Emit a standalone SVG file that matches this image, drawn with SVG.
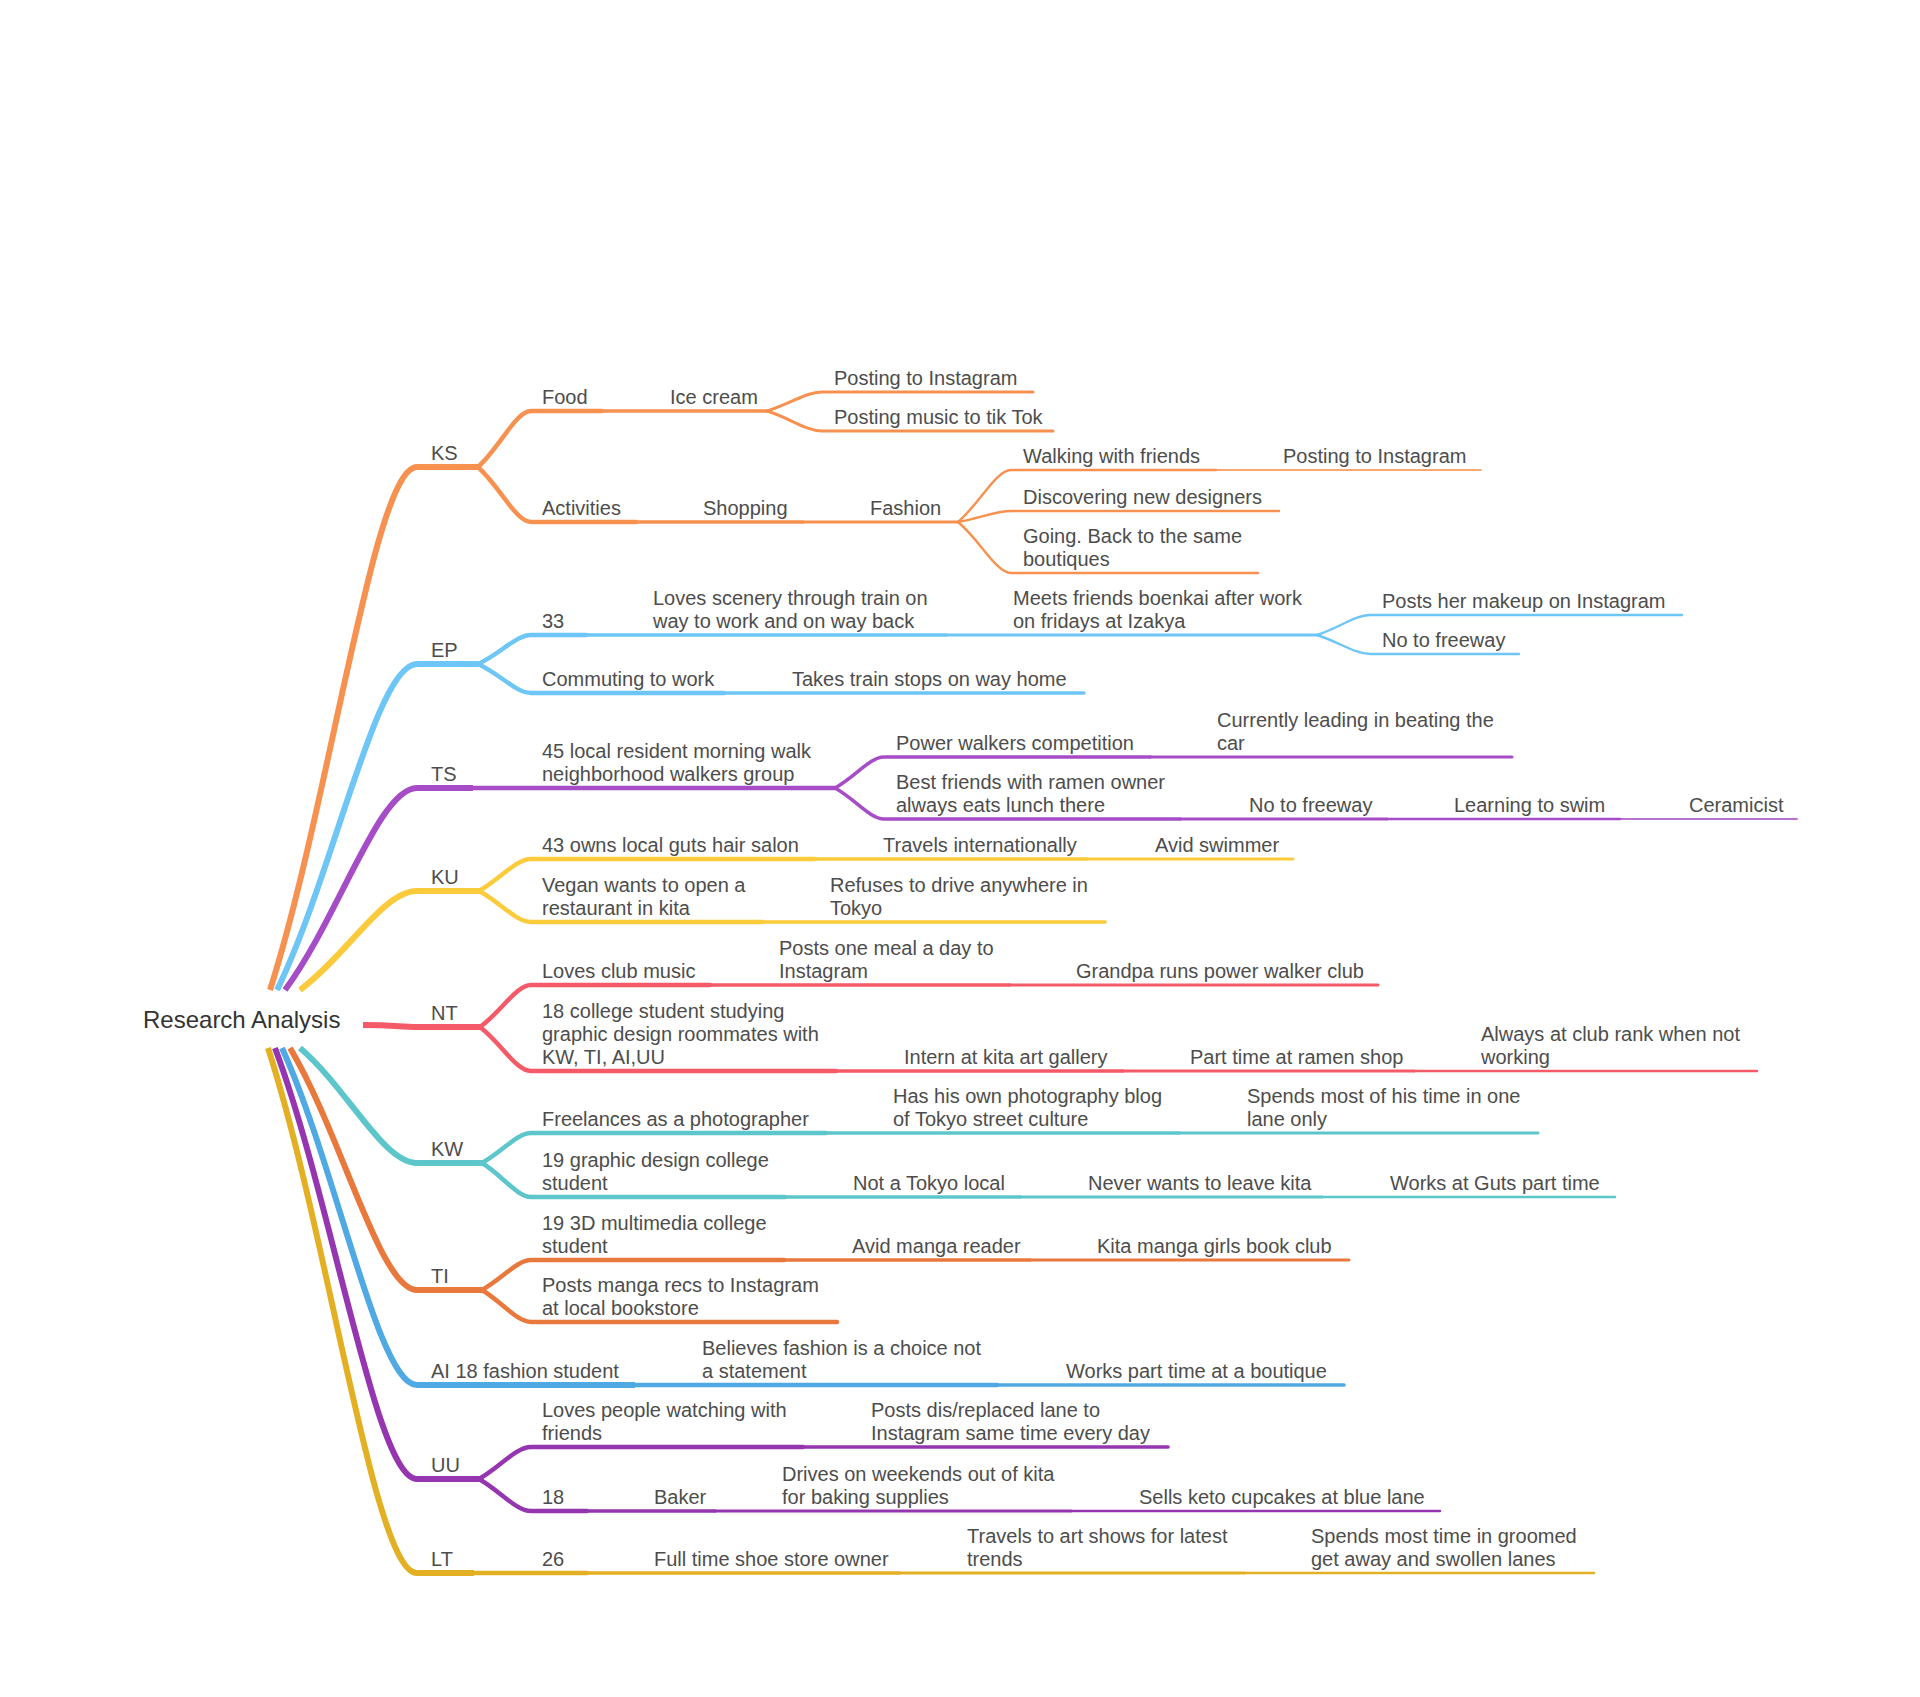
<svg xmlns="http://www.w3.org/2000/svg" width="1920" height="1697" viewBox="0 0 1920 1697">
<style>
.bg{fill:#ffffff}
.t{font-family:"Liberation Sans",Arial,Helvetica,sans-serif;font-size:20px;fill:#4d4d4d}
.root{font-size:24px;fill:#333333}
#connectors path{fill:none;stroke-linecap:round;stroke-linejoin:round}
#connectors .l1{stroke-width:6;stroke-linecap:butt}
#connectors .l2{stroke-width:4.5}
#connectors .l3{stroke-width:3.6}
#connectors .l4{stroke-width:3}
#connectors .l5{stroke-width:2.4}
#connectors .l6{stroke-width:1.8;opacity:0.8}
.ks{stroke:#F79150}.ep{stroke:#6EC6F7}.ts{stroke:#A64CC6}.ku{stroke:#FBCB3B}.nt{stroke:#F55A68}
.kw{stroke:#5DC6CA}.ti{stroke:#E8783C}.ai{stroke:#4FA9E2}.uu{stroke:#9535B0}.lt{stroke:#E3AF23}
</style>
<rect class="bg" x="0" y="0" width="1920" height="1697"/>
<g id="connectors">
<path class="l1 ks" d="M270 990 C330 802 374 467 417 467 L478 467"/>
<path class="l2 ks" d="M478 467 C500 447 516 411 531 411 L602 411"/>
<path class="l3 ks" d="M602 411 L767 411"/>
<path class="l4 ks" d="M767 411 C790 404 806 392 822 392 L1033 392"/>
<path class="l4 ks" d="M767 411 C790 418 806 431 822 431 L1053 431"/>
<path class="l2 ks" d="M478 467 C500 487 516 522 531 522 L636 522"/>
<path class="l3 ks" d="M636 522 L803 522"/>
<path class="l4 ks" d="M803 522 L958 522"/>
<path class="l5 ks" d="M958 522 C980 503 996 470 1011 470 L1216 470"/>
<path class="l6 ks" d="M1216 470 L1481 470"/>
<path class="l5 ks" d="M958 522 C980 518 996 511 1011 511 L1279 511"/>
<path class="l5 ks" d="M958 522 C980 540 996 573 1011 573 L1258 573"/>
<path class="l1 ep" d="M277 990 C334 873 376 664 417 664 L478 664"/>
<path class="l2 ep" d="M478 664 C500 654 516 635 531 635 L586 635"/>
<path class="l3 ep" d="M586 635 L946 635"/>
<path class="l4 ep" d="M946 635 L1317 635"/>
<path class="l5 ep" d="M1317 635 C1339 628 1355 615 1370 615 L1682 615"/>
<path class="l5 ep" d="M1317 635 C1339 642 1355 654 1370 654 L1519 654"/>
<path class="l2 ep" d="M478 664 C500 674 516 693 531 693 L724 693"/>
<path class="l3 ep" d="M724 693 L1084 693"/>
<path class="l1 ts" d="M285 990 C339 917 379 788 417 788 L473 788"/>
<path class="l2 ts" d="M473 788 L835 788"/>
<path class="l3 ts" d="M835 788 C855 777 870 757 884 757 L1150 757"/>
<path class="l4 ts" d="M1150 757 L1512 757"/>
<path class="l3 ts" d="M835 788 C855 799 870 819 884 819 L1180 819"/>
<path class="l4 ts" d="M1180 819 L1387 819"/>
<path class="l5 ts" d="M1387 819 L1620 819"/>
<path class="l6 ts" d="M1620 819 L1797 819"/>
<path class="l1 ku" d="M300 990 C348 954 383 891 417 891 L479 891"/>
<path class="l2 ku" d="M479 891 C500 879 516 859 531 859 L815 859"/>
<path class="l3 ku" d="M815 859 L1087 859"/>
<path class="l4 ku" d="M1087 859 L1293 859"/>
<path class="l2 ku" d="M479 891 C500 902 516 922 531 922 L763 922"/>
<path class="l3 ku" d="M763 922 L1105 922"/>
<path class="l1 nt" d="M363 1025 C395 1025 400 1027 417 1027 L480 1027"/>
<path class="l2 nt" d="M480 1027 C501 1012 516 985 531 985 L710 985"/>
<path class="l3 nt" d="M710 985 L1009 985"/>
<path class="l4 nt" d="M1009 985 L1378 985"/>
<path class="l2 nt" d="M480 1027 C501 1043 516 1071 531 1071 L836 1071"/>
<path class="l3 nt" d="M836 1071 L1123 1071"/>
<path class="l4 nt" d="M1123 1071 L1414 1071"/>
<path class="l5 nt" d="M1414 1071 L1757 1071"/>
<path class="l1 kw" d="M300 1048 C348 1089 383 1163 417 1163 L482 1163"/>
<path class="l2 kw" d="M482 1163 C502 1152 517 1133 531 1133 L826 1133"/>
<path class="l3 kw" d="M826 1133 L1179 1133"/>
<path class="l4 kw" d="M1179 1133 L1538 1133"/>
<path class="l2 kw" d="M482 1163 C502 1175 517 1197 531 1197 L785 1197"/>
<path class="l3 kw" d="M785 1197 L1020 1197"/>
<path class="l4 kw" d="M1020 1197 L1322 1197"/>
<path class="l5 kw" d="M1322 1197 L1615 1197"/>
<path class="l1 ti" d="M290 1048 C342 1135 380 1290 417 1290 L482 1290"/>
<path class="l2 ti" d="M482 1290 C502 1279 517 1260 531 1260 L784 1260"/>
<path class="l3 ti" d="M784 1260 L1030 1260"/>
<path class="l4 ti" d="M1030 1260 L1349 1260"/>
<path class="l2 ti" d="M482 1290 C502 1302 517 1322 531 1322 L837 1322"/>
<path class="l1 ai" d="M282 1048 C337 1169 378 1385 417 1385 L635 1385"/>
<path class="l2 ai" d="M635 1385 L997 1385"/>
<path class="l3 ai" d="M997 1385 L1344 1385"/>
<path class="l1 uu" d="M275 1048 C333 1203 376 1479 417 1479 L479 1479"/>
<path class="l2 uu" d="M479 1479 C500 1467 516 1447 531 1447 L803 1447"/>
<path class="l3 uu" d="M803 1447 L1168 1447"/>
<path class="l2 uu" d="M479 1479 C500 1491 516 1511 531 1511 L587 1511"/>
<path class="l3 uu" d="M587 1511 L715 1511"/>
<path class="l4 uu" d="M715 1511 L1071 1511"/>
<path class="l5 uu" d="M1071 1511 L1440 1511"/>
<path class="l1 lt" d="M268 1048 C329 1237 374 1573 417 1573 L474 1573"/>
<path class="l2 lt" d="M474 1573 L587 1573"/>
<path class="l3 lt" d="M587 1573 L899 1573"/>
<path class="l4 lt" d="M899 1573 L1244 1573"/>
<path class="l5 lt" d="M1244 1573 L1594 1573"/>
</g>
<g id="root"><text class="t root" x="143" y="1028">Research Analysis</text></g>
<g id="ks"><text class="t" x="431" y="460">KS</text></g>
<g id="ks-food"><text class="t" x="542" y="404">Food</text></g>
<g id="ks-icecream"><text class="t" x="670" y="404">Ice cream</text></g>
<g id="ks-posting1"><text class="t" x="834" y="385">Posting to Instagram</text></g>
<g id="ks-tiktok"><text class="t" x="834" y="424">Posting music to tik Tok</text></g>
<g id="ks-activities"><text class="t" x="542" y="515">Activities</text></g>
<g id="ks-shopping"><text class="t" x="703" y="515">Shopping</text></g>
<g id="ks-fashion"><text class="t" x="870" y="515">Fashion</text></g>
<g id="ks-walking"><text class="t" x="1023" y="463">Walking with friends</text></g>
<g id="ks-posting2"><text class="t" x="1283" y="463">Posting to Instagram</text></g>
<g id="ks-discovering"><text class="t" x="1023" y="504">Discovering new designers</text></g>
<g id="ks-going"><text class="t" x="1023" y="543">Going. Back to the same<tspan x="1023" dy="23">boutiques</tspan></text></g>
<g id="ep"><text class="t" x="431" y="657">EP</text></g>
<g id="ep-33"><text class="t" x="542" y="628">33</text></g>
<g id="ep-scenery"><text class="t" x="653" y="605">Loves scenery through train on<tspan x="653" dy="23">way to work and on way back</tspan></text></g>
<g id="ep-meets"><text class="t" x="1013" y="605">Meets friends boenkai after work<tspan x="1013" dy="23">on fridays at Izakya</tspan></text></g>
<g id="ep-makeup"><text class="t" x="1382" y="608">Posts her makeup on Instagram</text></g>
<g id="ep-freeway"><text class="t" x="1382" y="647">No to freeway</text></g>
<g id="ep-commuting"><text class="t" x="542" y="686">Commuting to work</text></g>
<g id="ep-takes"><text class="t" x="792" y="686">Takes train stops on way home</text></g>
<g id="ts"><text class="t" x="431" y="781">TS</text></g>
<g id="ts-45"><text class="t" x="542" y="758">45 local resident morning walk<tspan x="542" dy="23">neighborhood walkers group</tspan></text></g>
<g id="ts-power"><text class="t" x="896" y="750">Power walkers competition</text></g>
<g id="ts-leading"><text class="t" x="1217" y="727">Currently leading in beating the<tspan x="1217" dy="23">car</tspan></text></g>
<g id="ts-ramen"><text class="t" x="896" y="789">Best friends with ramen owner<tspan x="896" dy="23">always eats lunch there</tspan></text></g>
<g id="ts-freeway"><text class="t" x="1249" y="812">No to freeway</text></g>
<g id="ts-swim"><text class="t" x="1454" y="812">Learning to swim</text></g>
<g id="ts-ceramicist"><text class="t" x="1689" y="812">Ceramicist</text></g>
<g id="ku"><text class="t" x="431" y="884">KU</text></g>
<g id="ku-43"><text class="t" x="542" y="852">43 owns local guts hair salon</text></g>
<g id="ku-travels"><text class="t" x="883" y="852">Travels internationally</text></g>
<g id="ku-swimmer"><text class="t" x="1155" y="852">Avid swimmer</text></g>
<g id="ku-vegan"><text class="t" x="542" y="892">Vegan wants to open a<tspan x="542" dy="23">restaurant in kita</tspan></text></g>
<g id="ku-refuses"><text class="t" x="830" y="892">Refuses to drive anywhere in<tspan x="830" dy="23">Tokyo</tspan></text></g>
<g id="nt"><text class="t" x="431" y="1020">NT</text></g>
<g id="nt-club"><text class="t" x="542" y="978">Loves club music</text></g>
<g id="nt-meal"><text class="t" x="779" y="955">Posts one meal a day to<tspan x="779" dy="23">Instagram</tspan></text></g>
<g id="nt-grandpa"><text class="t" x="1076" y="978">Grandpa runs power walker club</text></g>
<g id="nt-18"><text class="t" x="542" y="1018">18 college student studying<tspan x="542" dy="23">graphic design roommates with</tspan><tspan x="542" dy="23">KW, TI, AI,UU</tspan></text></g>
<g id="nt-intern"><text class="t" x="904" y="1064">Intern at kita art gallery</text></g>
<g id="nt-parttime"><text class="t" x="1190" y="1064">Part time at ramen shop</text></g>
<g id="nt-always"><text class="t" x="1481" y="1041">Always at club rank when not<tspan x="1481" dy="23">working</tspan></text></g>
<g id="kw"><text class="t" x="431" y="1156">KW</text></g>
<g id="kw-freelances"><text class="t" x="542" y="1126">Freelances as a photographer</text></g>
<g id="kw-blog"><text class="t" x="893" y="1103">Has his own photography blog<tspan x="893" dy="23">of Tokyo street culture</tspan></text></g>
<g id="kw-lane"><text class="t" x="1247" y="1103">Spends most of his time in one<tspan x="1247" dy="23">lane only</tspan></text></g>
<g id="kw-19"><text class="t" x="542" y="1167">19 graphic design college<tspan x="542" dy="23">student</tspan></text></g>
<g id="kw-local"><text class="t" x="853" y="1190">Not a Tokyo local</text></g>
<g id="kw-never"><text class="t" x="1088" y="1190">Never wants to leave kita</text></g>
<g id="kw-guts"><text class="t" x="1390" y="1190">Works at Guts part time</text></g>
<g id="ti"><text class="t" x="431" y="1283">TI</text></g>
<g id="ti-19"><text class="t" x="542" y="1230">19 3D multimedia college<tspan x="542" dy="23">student</tspan></text></g>
<g id="ti-manga"><text class="t" x="852" y="1253">Avid manga reader</text></g>
<g id="ti-club"><text class="t" x="1097" y="1253">Kita manga girls book club</text></g>
<g id="ti-recs"><text class="t" x="542" y="1292">Posts manga recs to Instagram<tspan x="542" dy="23">at local bookstore</tspan></text></g>
<g id="ai"><text class="t" x="431" y="1378">AI 18 fashion student</text></g>
<g id="ai-believes"><text class="t" x="702" y="1355">Believes fashion is a choice not<tspan x="702" dy="23">a statement</tspan></text></g>
<g id="ai-boutique"><text class="t" x="1066" y="1378">Works part time at a boutique</text></g>
<g id="uu"><text class="t" x="431" y="1472">UU</text></g>
<g id="uu-people"><text class="t" x="542" y="1417">Loves people watching with<tspan x="542" dy="23">friends</tspan></text></g>
<g id="uu-posts"><text class="t" x="871" y="1417">Posts dis/replaced lane to<tspan x="871" dy="23">Instagram same time every day</tspan></text></g>
<g id="uu-18"><text class="t" x="542" y="1504">18</text></g>
<g id="uu-baker"><text class="t" x="654" y="1504">Baker</text></g>
<g id="uu-drives"><text class="t" x="782" y="1481">Drives on weekends out of kita<tspan x="782" dy="23">for baking supplies</tspan></text></g>
<g id="uu-keto"><text class="t" x="1139" y="1504">Sells keto cupcakes at blue lane</text></g>
<g id="lt"><text class="t" x="431" y="1566">LT</text></g>
<g id="lt-26"><text class="t" x="542" y="1566">26</text></g>
<g id="lt-shoe"><text class="t" x="654" y="1566">Full time shoe store owner</text></g>
<g id="lt-art"><text class="t" x="967" y="1543">Travels to art shows for latest<tspan x="967" dy="23">trends</tspan></text></g>
<g id="lt-groomed"><text class="t" x="1311" y="1543">Spends most time in groomed<tspan x="1311" dy="23">get away and swollen lanes</tspan></text></g>
</svg>
